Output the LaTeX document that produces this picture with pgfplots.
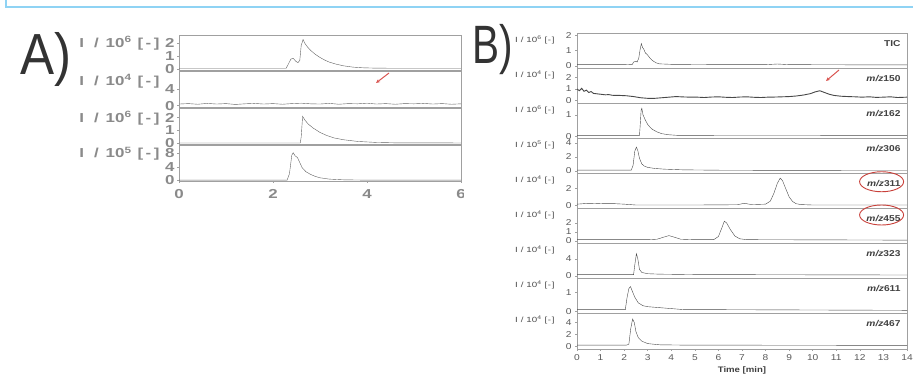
\documentclass[border=0pt]{standalone}
\usepackage{pgfplots}
\pgfplotsset{compat=1.18}
\usepackage{fontspec}
\setmainfont{Liberation Sans}[FakeStretch=1.2]
\newfontfamily\plainfont{Liberation Sans}
\newfontfamily\wideA{Liberation Sans}[FakeStretch=1.3]
\newfontfamily\wideB{Liberation Sans}[FakeStretch=1.3]
\usetikzlibrary{arrows.meta}
\definecolor{frameblue}{HTML}{8FD3F4}
\definecolor{axgray}{HTML}{A0A0A0}
\definecolor{linegray}{HTML}{484848}
\definecolor{agray}{HTML}{8A8A8A}
\definecolor{arrowred}{HTML}{D9534F}
\definecolor{ellred}{HTML}{C8403A}
\newcommand{\AL}[1]{{\wideA\bfseries I\hspace{10pt}/\hspace{7pt}10\textsuperscript{#1}\hspace{6pt}[\hspace{2.5pt}-\hspace{2.5pt}]}}
\newcommand{\BL}[1]{{\wideB I\hspace{3pt}/\hspace{3pt}10\textsuperscript{#1}\hspace{3pt}[\hspace{0.6pt}-\hspace{0.6pt}]}}
\newcommand{\MZ}[1]{\textit{m/z}#1}
\pgfplotsset{
  basepanel/.style={scale only axis, clip=false, anchor=north west,
    axis line style={axgray, line width=0.6pt},
    tick style={axgray, line width=0.5pt}, major tick length=2pt, tick align=outside,
    ytick pos=left, xtick pos=bottom, no markers,
    /pgf/number format/assume math mode=true},
  Apanel/.style={basepanel, width=282pt, xmin=0, xmax=6, xtick={0,2,4,6}, xticklabels={},
    tick label style={font=\wideA\bfseries\fontsize{13}{14}\selectfont, text=agray},
    yticklabel style={xshift=1pt}, xticklabel style={yshift=-3pt},
    cycle list={{black!62, line width=0.8pt}}},
  Bpanel/.style={basepanel, width=330pt, height=35pt, xmin=0, xmax=14, xtick=\empty,
    tick label style={font=\fontsize{8.5}{9}\selectfont, text=black!65},
    cycle list={{linegray, line width=0.7pt}}},
}
\tikzset{
  Alab/.style={anchor=east, font=\fontsize{13}{14}\selectfont, text=agray, xshift=-16pt},
  Blab/.style={anchor=east, font=\fontsize{7.5}{8}\selectfont, text=black!70, xshift=-19pt},
  Bname/.style={anchor=north east, font=\bfseries\fontsize{8.5}{9}\selectfont, text=black!75, xshift=-3pt, yshift=-4pt},
}
\begin{document}
\begin{tikzpicture}[x=1pt,y=1pt]
\useasboundingbox (0,0) rectangle (913,382);
\draw[frameblue, line width=1.8pt] (6,382) -- (6,375) -- (913,375);
\node[anchor=base west, inner sep=0pt, font=\plainfont\fontsize{58}{60}\selectfont, text=black!80] at (20,307) {\scalebox{0.88}[1]{A)}};
\node[anchor=base west, inner sep=0pt, font=\plainfont\fontsize{54}{60}\selectfont, text=black!80] at (472,318) {\scalebox{0.75}[1]{B)}};

\begin{scope}
\clip (0,0) rectangle (463,382);
% A1
\begin{axis}[Apanel, at={(179pt,347pt)}, height=35pt, ymin=-0.08, ymax=2.6, ytick={0,1,2}]
\addplot coordinates {(0,0.05) (1,0.05) (2,0.05) (2.28,0.05) (2.33,0.4) (2.38,0.75) (2.43,0.82) (2.48,0.6) (2.53,0.48) (2.57,0.65) (2.6,1.8) (2.64,2.25) (2.68,1.95) (2.73,1.7) (2.8,1.42) (2.9,1.12) (3.0,0.88) (3.1,0.68) (3.2,0.52) (3.35,0.36) (3.5,0.24) (3.7,0.14) (3.9,0.09) (4.2,0.06) (5,0.05) (6,0.05)};
\node[Alab] at (rel axis cs:0,0.77) {\AL{6}};
\end{axis}
% A2
\begin{axis}[Apanel, at={(179pt,311pt)}, height=36pt, ymin=-0.3, ymax=8.2, ytick={0,4}]
\addplot coordinates {(0,0.4) (0.2,0.5) (0.4,0.35) (0.6,0.55) (0.8,0.4) (1.0,0.5) (1.2,0.3) (1.4,0.45) (1.6,0.55) (1.8,0.4) (2.0,0.5) (2.2,0.35) (2.4,0.5) (2.6,0.6) (2.8,0.45) (3.0,0.4) (3.2,0.55) (3.4,0.35) (3.6,0.5) (3.8,0.45) (4.0,0.6) (4.2,0.4) (4.4,0.5) (4.6,0.35) (4.8,0.5) (5.0,0.45) (5.2,0.55) (5.4,0.4) (5.6,0.5) (5.8,0.35) (6.0,0.45)};
\node[Alab] at (rel axis cs:0,0.72) {\AL{4}};
\end{axis}
% A3
\begin{axis}[Apanel, at={(179pt,274pt)}, height=36pt, ymin=-0.05, ymax=2.75, ytick={0,1,2}]
\addplot coordinates {(0,0.03) (2.58,0.03) (2.6,0.5) (2.63,2.1) (2.68,1.8) (2.75,1.5) (2.85,1.2) (3.0,0.85) (3.15,0.6) (3.3,0.42) (3.5,0.28) (3.8,0.15) (4.2,0.07) (4.6,0.04) (6,0.03)};
\node[Alab] at (rel axis cs:0,0.72) {\AL{6}};
\end{axis}
% A4
\begin{axis}[Apanel, at={(179pt,237pt)}, height=36pt, ymin=-0.15, ymax=10.5, ytick={0,4,8}, xticklabels={0,2,4,6}]
\addplot coordinates {(0,0.1) (2.3,0.1) (2.35,2) (2.4,7.5) (2.43,8.2) (2.47,7.3) (2.52,6.8) (2.57,5.3) (2.62,3.8) (2.7,2.6) (2.8,1.8) (2.9,1.2) (3.0,0.8) (3.2,0.4) (3.5,0.2) (4,0.1) (6,0.1)};
\node[Alab] at (rel axis cs:0,0.75) {\AL{5}};
\end{axis}
\end{scope}

% B panels
\begin{axis}[Bpanel, at={(577pt,349pt)}, ymin=-0.14, ymax=2.15, ytick={0,1,2}]
\addplot coordinates {(0,0.08) (2,0.08) (2.35,0.1) (2.4,0.25) (2.5,0.3) (2.55,0.25) (2.62,0.5) (2.68,1.1) (2.73,1.45) (2.78,1.2) (2.83,1.1) (2.9,0.85) (3.0,0.7) (3.1,0.5) (3.2,0.35) (3.35,0.2) (3.5,0.13) (4,0.1) (6,0.08) (8,0.08) (8.5,0.12) (9,0.08) (11,0.07) (14,0.06)};
\node[Blab] at (rel axis cs:0,0.8) {\BL{6}};
\node[Bname] at (rel axis cs:1,1) {TIC};
\end{axis}
\begin{axis}[Bpanel, at={(577pt,314pt)}, ymin=-0.2, ymax=2.8, ytick={0,1,2}]
\addplot+[line width=0.9pt] coordinates {(0,1.0) (0.1,0.85) (0.2,1.05) (0.3,0.8) (0.4,0.9) (0.5,0.7) (0.6,0.78) (0.7,0.62) (0.8,0.6) (1.0,0.55) (1.2,0.5) (1.35,0.52) (1.5,0.46) (1.8,0.45) (2.1,0.42) (2.4,0.35) (2.7,0.25) (3.0,0.2) (3.3,0.2) (3.6,0.25) (3.9,0.3) (4.2,0.35) (4.5,0.32) (4.8,0.3) (5.1,0.3) (5.4,0.27) (5.7,0.31) (6.0,0.33) (6.3,0.29) (6.6,0.27) (6.9,0.31) (7.2,0.33) (7.5,0.29) (7.8,0.27) (8.1,0.3) (8.4,0.31) (8.7,0.33) (9.0,0.35) (9.3,0.4) (9.6,0.48) (9.9,0.6) (10.1,0.75) (10.3,0.85) (10.5,0.7) (10.7,0.55) (10.9,0.45) (11.2,0.38) (11.5,0.35) (11.8,0.33) (12.1,0.3) (12.4,0.33) (12.7,0.28) (13.0,0.3) (13.3,0.33) (13.6,0.27) (14,0.3)};
\node[Blab] at (rel axis cs:0,0.8) {\BL{4}};
\node[Bname] at (rel axis cs:1,1) {\MZ{150}};
\end{axis}
\begin{axis}[Bpanel, at={(577pt,279pt)}, ymin=-0.08, ymax=1.55, ytick={0,1}]
\addplot coordinates {(0,0.03) (2.65,0.03) (2.68,0.5) (2.72,1.2) (2.75,1.3) (2.8,1.0) (2.9,0.75) (3.0,0.55) (3.1,0.42) (3.2,0.32) (3.4,0.2) (3.6,0.12) (3.9,0.07) (4.3,0.04) (14,0.03)};
\node[Blab] at (rel axis cs:0,0.8) {\BL{6}};
\node[Bname] at (rel axis cs:1,1) {\MZ{162}};
\end{axis}
\begin{axis}[Bpanel, at={(577pt,244pt)}, ymin=-0.3, ymax=4.7, ytick={0,2,4}]
\addplot coordinates {(0,0.1) (2.3,0.1) (2.38,0.8) (2.45,2.8) (2.52,3.4) (2.58,2.9) (2.65,1.8) (2.75,1.0) (2.85,0.7) (3.0,0.5) (3.3,0.35) (3.7,0.25) (4.5,0.15) (6,0.1) (8,0.08) (14,0.05)};
\node[Blab] at (rel axis cs:0,0.8) {\BL{5}};
\node[Bname] at (rel axis cs:1,1) {\MZ{306}};
\end{axis}
\begin{axis}[Bpanel, at={(577pt,209pt)}, ymin=-0.3, ymax=3.8, ytick={0,2}]
\addplot coordinates {(0,0.15) (0.5,0.25) (1,0.2) (1.5,0.22) (2,0.15) (2.5,0.05) (3,0.05) (5,0.05) (6.8,0.08) (7.1,0.25) (7.4,0.1) (8,0.15) (8.2,0.5) (8.35,1.4) (8.5,2.6) (8.62,3.2) (8.72,2.9) (8.85,2.0) (9.0,1.0) (9.15,0.45) (9.3,0.2) (9.5,0.1) (10,0.05) (14,0.05)};
\node[Blab] at (rel axis cs:0,0.8) {\BL{4}};
\node[Bname] at (rel axis cs:1,1) {\MZ{311}};
\draw[ellred, line width=0.9pt] (rel axis cs:0.923,0.75) ellipse [x radius=22pt, y radius=10pt];
\end{axis}
\begin{axis}[Bpanel, at={(577pt,174pt)}, ymin=-0.22, ymax=3.67, ytick={0,1,2}]
\addplot coordinates {(0,0.15) (3,0.15) (3.4,0.2) (3.7,0.45) (3.9,0.6) (4.1,0.45) (4.4,0.2) (5,0.15) (5.8,0.15) (6.0,0.5) (6.15,1.5) (6.25,2.2) (6.35,2.0) (6.5,1.3) (6.7,0.55) (6.9,0.25) (7.2,0.15) (14,0.1)};
\node[Blab] at (rel axis cs:0,0.8) {\BL{4}};
\node[Bname] at (rel axis cs:1,1) {\MZ{455}};
\draw[ellred, line width=0.9pt] (rel axis cs:0.923,0.8) ellipse [x radius=22pt, y radius=10pt];
\end{axis}
\begin{axis}[Bpanel, at={(577pt,139pt)}, ymin=-0.5, ymax=7.7, ytick={0,4}]
\addplot coordinates {(0,0.3) (2.4,0.3) (2.45,2.5) (2.52,5.2) (2.58,4.0) (2.65,1.5) (2.75,0.8) (3.0,0.5) (3.5,0.4) (5,0.3) (14,0.2)};
\node[Blab] at (rel axis cs:0,0.8) {\BL{4}};
\node[Bname] at (rel axis cs:1,1) {\MZ{323}};
\end{axis}
\begin{axis}[Bpanel, at={(577pt,104pt)}, ymin=-0.08, ymax=1.75, ytick={0,1}]
\addplot coordinates {(0,0.1) (2.05,0.1) (2.12,0.7) (2.2,1.2) (2.27,1.3) (2.35,1.05) (2.45,0.75) (2.6,0.45) (2.8,0.3) (3.0,0.25) (3.5,0.2) (4.0,0.15) (4.5,0.1) (14,0.06)};
\node[Blab] at (rel axis cs:0,0.8) {\BL{4}};
\node[Bname] at (rel axis cs:1,1) {\MZ{611}};
\end{axis}
\begin{axis}[Bpanel, at={(577pt,69pt)}, height=36pt, ymin=-0.4, ymax=5.6, ytick={0,2,4}, xtick={0,...,14}]
\addplot coordinates {(0,0.25) (2.1,0.25) (2.2,0.4) (2.28,3.0) (2.36,4.6) (2.43,4.0) (2.5,2.5) (2.6,1.5) (2.75,0.9) (3.0,0.5) (3.5,0.3) (4.5,0.25) (14,0.2)};
\node[Blab] at (rel axis cs:0,0.8) {\BL{4}};
\node[Bname] at (rel axis cs:1,1) {\MZ{467}};
\node[font=\bfseries\fontsize{8}{9}\selectfont, text=black!75] at (rel axis cs:0.5,0) [yshift=-21pt] {Time [min]};
\end{axis}

\draw[arrowred, line width=1pt, -{Stealth[length=4pt,width=3.5pt]}] (389,309) -- (376,299);
\draw[arrowred, line width=1pt, -{Stealth[length=4pt,width=3.5pt]}] (839,312) -- (826,301);
\end{tikzpicture}
\end{document}
